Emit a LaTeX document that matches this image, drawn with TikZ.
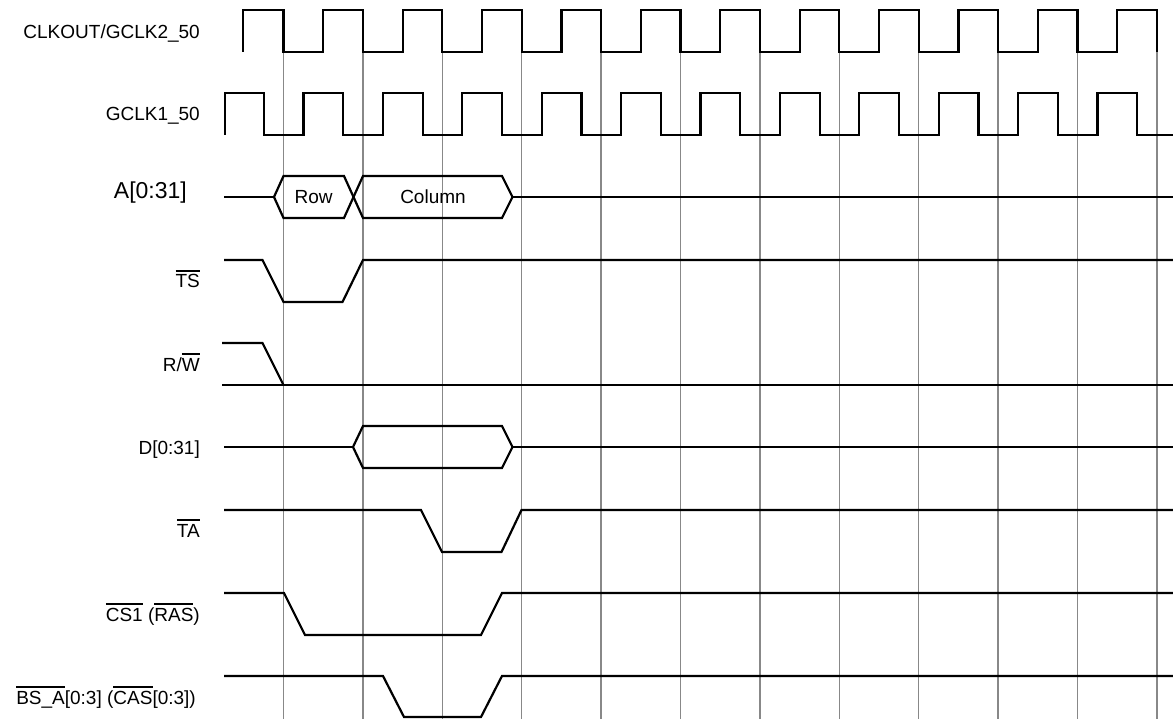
\documentclass[tikz,border=0pt]{standalone}
\usepackage{fontspec}
\setmainfont{Liberation Sans}
\usepackage{tikz}
\newcommand{\ovl}[1]{\leavevmode\vbox{\hrule height 1.6pt\kern 3.2pt\hbox{#1}}}

\begin{document}
\begin{tikzpicture}[x=1pt,y=-1pt,
  wave/.style={line width=2.2pt,black},
  tick/.style={line width=1.4pt,gridGray},
  lbl/.style={anchor=base east,inner sep=0pt,font=\fontsize{19}{22}\selectfont},
  busText/.style={anchor=base,inner sep=0pt,font=\fontsize{19}{22}\selectfont}]
\definecolor{gridGray}{HTML}{888888}
\useasboundingbox (0,0) rectangle (1173,719);
% clock edges
\foreach \k in {0,...,11}
  \draw[tick] ({283.5+79.4*\k},52) -- ({283.5+79.4*\k},719);
% signal names
\node[lbl] (clkout) at (200,39) {CLKOUT/GCLK2\_50};
\node[lbl] (gclk) at (200,121) {GCLK1\_50};
\node[lbl,font=\fontsize{23}{27}\selectfont] (addr) at (187,199) {A[0:31]};
\node[lbl] (ts) at (200,288) {\ovl{TS}};
\node[lbl] (rw) at (200,371) {R/\ovl{W}};
\node[lbl] (data) at (200,454) {D[0:31]};
\node[lbl] (ta) at (200,537) {\ovl{TA}};
\node[lbl] (cs) at (200,621) {\ovl{CS1} (\ovl{RAS})};
\node[lbl] (bs) at (196,704) {\ovl{BS\_A}[0:3] (\ovl{CAS}[0:3])};
% clocks
\draw[wave] (243,52) -- (243,10)
  \foreach \k in {0,...,10} { -- ({283.5+79.4*\k},10) -- ({283.5+79.4*\k},52)
    -- ({323.2+79.4*\k},52) -- ({323.2+79.4*\k},10) }
  -- (1156.9,10) -- (1156.9,52);
\draw[wave] (225,135) -- (225,93)
  \foreach \k in {0,...,10} { -- ({263.8+79.4*\k},93) -- ({263.8+79.4*\k},135)
    -- ({303.5+79.4*\k},135) -- ({303.5+79.4*\k},93) }
  -- (1137.2,93) -- (1137.2,135) -- (1173,135);
% address bus
\draw[wave] (224,197) -- (274,197);
\draw[wave] (274,197) -- (283.5,176) -- (344,176) -- (353.5,197) -- (344,218) -- (283.5,218) -- cycle;
\draw[wave] (353.5,197) -- (363,176) -- (502,176) -- (512.5,197) -- (502,218) -- (363,218) -- cycle;
\draw[wave] (512.5,197) -- (1173,197);
\node[busText] (row) at (313.7,204) {Row};
\node[busText] (col) at (433,204) {Column};
% TS
\draw[wave] (224,260) -- (262.5,260) -- (283.5,302) -- (342.5,302) -- (363,260) -- (1173,260);
% R/W
\draw[wave] (222,343) -- (262.5,343) -- (283.5,385);
\draw[wave] (222,385) -- (1173,385);
% data bus
\draw[wave] (224,447) -- (353,447);
\draw[wave] (353,447) -- (363,426) -- (502,426) -- (512.5,447) -- (502,468) -- (363,468) -- cycle;
\draw[wave] (512.5,447) -- (1173,447);
% TA
\draw[wave] (224,510) -- (421,510) -- (442,552) -- (501.5,552) -- (521.5,510) -- (1173,510);
% CS1 (RAS)
\draw[wave] (224,593) -- (284,593) -- (305,635) -- (481,635) -- (502,593) -- (1173,593);
% BS_A (CAS)
\draw[wave] (224,676) -- (383,676) -- (404,717) -- (481,717) -- (502,676) -- (1173,676);
\end{tikzpicture}
\end{document}
